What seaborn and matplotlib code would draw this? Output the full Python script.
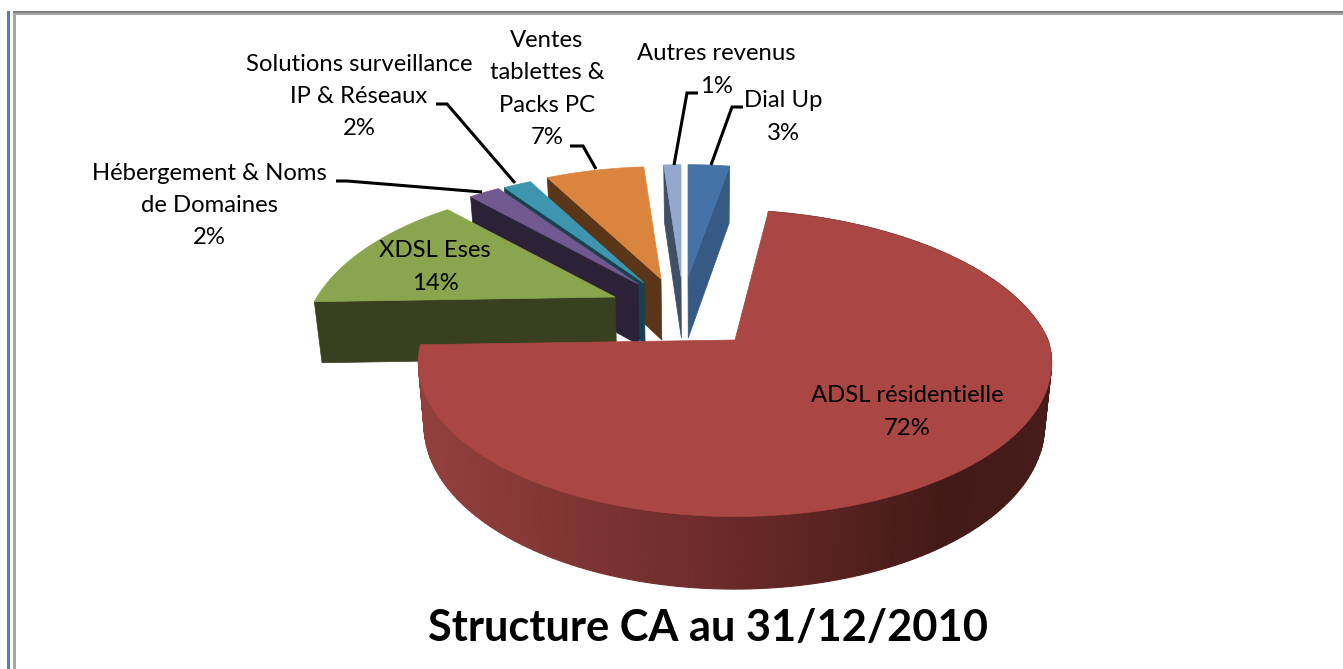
import numpy as np
import seaborn as sns
import matplotlib.pyplot as plt
from matplotlib.colors import to_rgb

# Slices in drawing order round the pie, clockwise from 12 o'clock
labels = ['Dial Up', 'ADSL résidentielle', 'XDSL Eses', 'Hébergement & Noms\nde Domaines',
          'Solutions surveillance\nIP & Réseaux', 'Ventes\ntablettes &\nPacks PC', 'Autres revenus']
values = [2.9, 71.6, 13.5, 2.1, 1.9, 6.8, 1.2]
title = 'Structure CA au 31/12/2010'

# style
face_colors = ['#4572a7', '#aa4643', '#89a54e', '#71588f', '#3d96ae', '#db843d', '#92a8cf']
wall_colors = ['#375a85', '#6d2b2a', '#38401f', '#2c2238', '#16414e', '#5b3517', '#3f4f66']
red_stops_x = [420, 600, 735, 950, 1052]
red_stops_c = ['#93403d', '#7c3331', '#6a2a29', '#431a17', '#451c19']

# exploded position of every slice in pixels (top face apex)
apex = [(688, 277), (735, 340), (615, 297), (638, 284), (644, 283), (661, 279), (681, 277)]
# which radial side shows a wall: 0 start, 1 end
wall_side = [1, None, 0, 0, 0, 0, 0]
paint_order = [0, 6, 5, 4, 3, 2, 1]

back_proj = dict(a=298, b=146, k=0.30, skew=0.0, depth=61, dk=0.07)
red_proj = dict(a=313, b=150, k=0.15, skew=0.125, depth=61, dk=0.16)
vanish_x = 700
shrink = 0.98

sns.set_theme(style='white')
plt.rcParams['font.family'] = ['Lato', 'DejaVu Sans']
palette = sns.color_palette(face_colors)

fig = plt.figure(figsize=(13.43, 6.69), dpi=100)
ax = fig.add_axes([0, 0, 1, 1])
ax.set_xlim(0, 1343)
ax.set_ylim(669, 0)
ax.axis('off')


def top_point(theta, c, p):
    t = np.radians(theta)
    u, v = np.sin(t), -np.cos(t)
    s = 1 / (1 - p['k'] * v)
    dy = p['b'] * v * s
    dx = p['a'] * u * s + p['skew'] * np.minimum(dy, 0)
    return c[0] + dx, c[1] + dy


def bottom_point(x, y, theta, p):
    v = -np.cos(np.radians(theta))
    return vanish_x + (x - vanish_x) * shrink, y + p['depth'] / (1 - p['dk'] * v)


# frame of the page
ax.fill([7, 10, 10, 7], [11, 11, 669, 669], color='#4f81bd', lw=0)
ax.fill([13, 1343, 1343, 13], [11, 11, 13, 13], color='#7f7f7f', lw=0)
ax.fill([13, 1343, 1343, 13], [13, 13, 15, 15], color='#a6a6a6', lw=0)
ax.fill([13, 15.5, 15.5, 13], [13, 13, 669, 669], color='#a6a6a6', lw=0)

edges = 360 * np.concatenate([[0], np.cumsum(values)]) / np.sum(values)

for i in paint_order:
    start, end = edges[i], edges[i + 1]
    c = apex[i]
    p = red_proj if i == 1 else back_proj
    thetas = np.linspace(start, end, 200)
    xs, ys = top_point(thetas, c, p)

    if wall_side[i] is not None:
        th = end if wall_side[i] == 1 else start
        ox, oy = top_point(th, c, p)
        bx, by = bottom_point(ox, oy, th, p)
        ax0, ay0 = bottom_point(c[0], c[1], 90, p)
        ax.fill([ox, c[0], ax0, bx], [oy, c[1], ay0, by], color=wall_colors[i], lw=0.5)

    if i == 1:
        # curved outer wall of the big slice, shaded from left to right
        bxs, bys = bottom_point(xs, ys, thetas, p)
        rgb = np.array([to_rgb(col) for col in red_stops_c])
        for j in range(len(thetas) - 1):
            col = [np.interp(xs[j], red_stops_x, rgb[:, n]) for n in range(3)]
            ax.fill([xs[j], xs[j + 1], bxs[j + 1], bxs[j]], [ys[j], ys[j + 1], bys[j + 1], bys[j]],
                    color=col, lw=0.8)

    ax.fill(np.r_[c[0], xs], np.r_[c[1], ys], color=palette[i], lw=0.5)

# leader lines
leaders = [
    ([743, 732, 711], [107, 107, 165]),
    ([698, 687, 674], [93, 93, 165]),
    ([570, 583, 596], [146, 146, 169]),
    ([436, 447, 515], [104, 104, 183]),
    ([336, 347, 482], [181, 181, 192]),
]
for lx, ly in leaders:
    ax.plot(lx, ly, color='black', lw=2.2, solid_joinstyle='miter', solid_capstyle='butt')

# text
label_pos = [(783, 117), (907, 412), (435, 267), (209, 205.5), (359, 96.5), (547, 89), (716, 70)]
for lab, val, pos in zip(labels, values, label_pos):
    ax.text(pos[0], pos[1], '{}\n{}%'.format(lab, int(round(val))), ha='center', va='center',
            fontsize=17.2, color='black', linespacing=1.67)

ax.text(708, 628, title, ha='center', va='center', fontsize=31.2, fontweight='bold', color='black')

fig.savefig('out.png', dpi=100)
